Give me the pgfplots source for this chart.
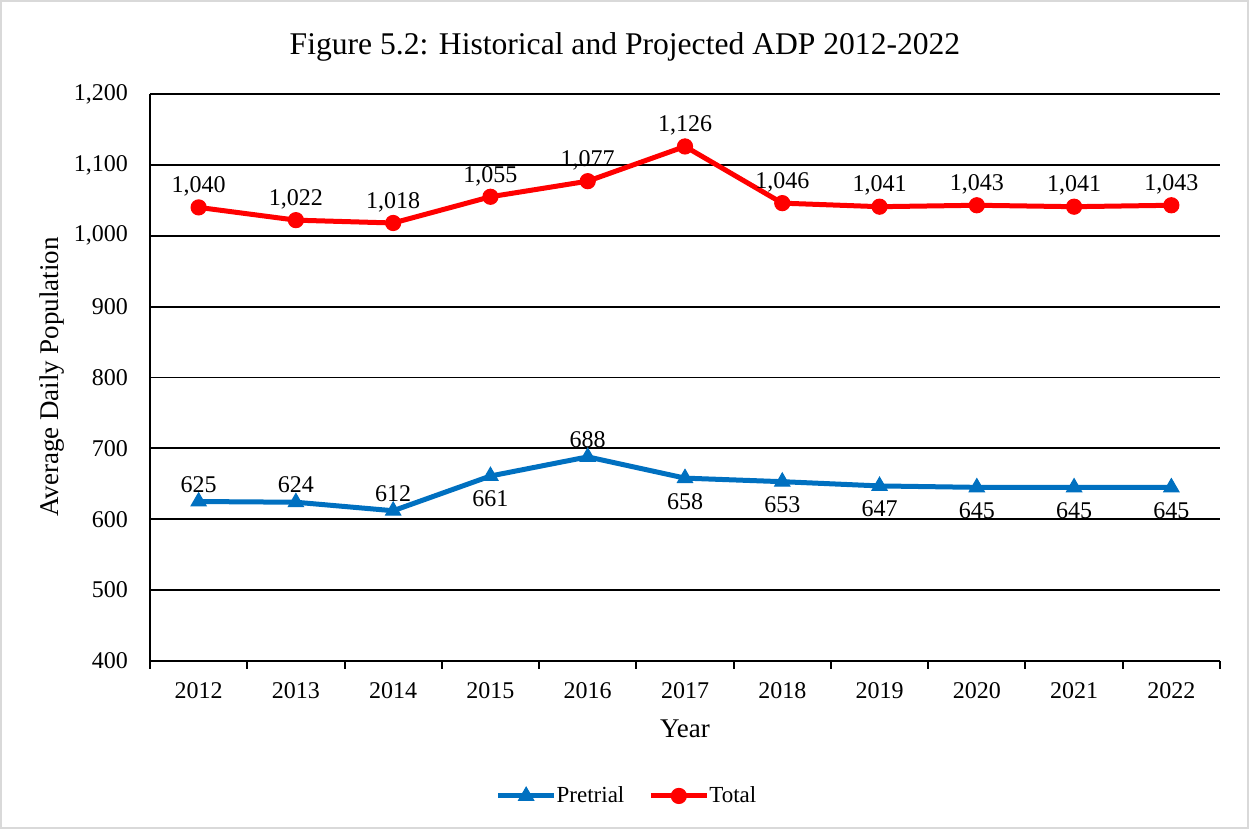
\documentclass[border=0pt]{standalone}
\usepackage{pgfplots}
\pgfplotsset{compat=1.18}
\usepackage{fontspec}
\setmainfont{Liberation Serif}
\definecolor{pblue}{HTML}{0070C0}
\definecolor{tred}{HTML}{FF0000}
\definecolor{frame}{HTML}{D9D9D9}
\begin{document}
\begin{tikzpicture}
\useasboundingbox (0,0) rectangle (624.5pt,414.5pt);
\draw[frame, line width=1pt] (0.5pt,0.5pt) rectangle (624pt,414pt);
\node[font=\fontsize{15.8}{19}\selectfont] at (312.5pt,391pt) {Figure 5.2: Historical and Projected ADP 2012-2022};
\node[font=\fontsize{13.5}{16}\selectfont, rotate=90] at (26pt,226pt) {Average Daily Population};
\begin{axis}[
  at={(75pt,84pt)}, anchor=south west,
  scale only axis, width=535pt, height=283.5pt,
  xmin=-0.5, xmax=10.5, ymin=400, ymax=1200,
  ytick={400,500,...,1200},
  xtick={0,...,10},
  xticklabels={2012,2013,2014,2015,2016,2017,2018,2019,2020,2021,2022},
  minor xtick={-0.5,0.5,...,10.5},
  major tick length=0pt, minor tick length=4pt,
  tick align=outside,
  axis x line*=bottom, axis y line*=left,
  axis line style={line width=1pt, black},
  every tick/.style={black, line width=1pt},
  minor tick style={black, line width=1pt},
  ymajorgrids, major grid style={black, line width=0.9pt},
  /pgf/number format/assume math mode=true,
  tick label style={font=\fontsize{12}{14}\selectfont},
  yticklabel style={xshift=-7.5pt},
  xticklabel style={yshift=-7pt},
  xlabel={Year},
  xlabel style={font=\fontsize{13.5}{16}\selectfont, yshift=-4pt},
  clip=false,
  legend columns=2,
  legend style={at={(0.4467,-0.238)}, anchor=center, draw=none, fill=none,
    font=\fontsize{11.5}{14}\selectfont, column sep=0pt,
    /tikz/every even column/.append style={column sep=10pt},
    /tikz/every odd column/.append style={column sep=-2pt}},
  legend cell align=left,
  legend image code/.code={
    \draw[#1, mark=none] (0pt,0pt) -- (28pt,0pt);
    \draw[#1, only marks] plot coordinates {(14pt,0pt)};
  },
  nodes near coords style={font=\fontsize{12}{14}\selectfont},
]
\addplot[pblue, line width=2.5pt, mark=triangle*, mark size=4.4pt, mark options={line width=0.5pt}] coordinates {
(0,625)(1,624)(2,612)(3,661)(4,688)(5,658)(6,653)(7,647)(8,645)(9,645)(10,645)};
\addlegendentry{Pretrial}
\addplot[tred, line width=2.5pt, mark=*, mark size=3.8pt, mark options={line width=0.5pt}] coordinates {
(0,1040)(1,1022)(2,1018)(3,1055)(4,1077)(5,1126)(6,1046)(7,1041)(8,1043)(9,1041)(10,1043)};
\addlegendentry{Total}
% labels
\addplot[draw=none, mark=none, forget plot, nodes near coords, point meta=y,
  nodes near coords style={anchor=south, yshift=2pt, text=black}] coordinates {
(0,1040)(1,1022)(2,1018)(3,1055)(4,1077)(5,1126)(6,1046)(7,1041)(8,1043)(9,1041)(10,1043)};
\addplot[draw=none, mark=none, forget plot, nodes near coords, point meta=y,
  nodes near coords style={anchor=south, yshift=1pt, text=black}] coordinates {
(0,625)(1,624)(2,612)(4,688)};
\addplot[draw=none, mark=none, forget plot, nodes near coords, point meta=y,
  nodes near coords style={anchor=north, yshift=-4pt, text=black}] coordinates {
(3,661)(5,658)(6,653)(7,647)(8,645)(9,645)(10,645)};
\end{axis}
\end{tikzpicture}
\end{document}
